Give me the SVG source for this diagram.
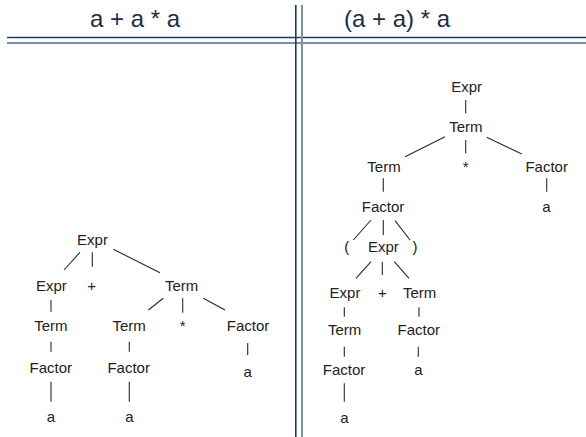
<svg xmlns="http://www.w3.org/2000/svg" width="586" height="437" viewBox="0 0 586 437">
<style>
.hdr{font-family:"Liberation Sans",Arial,sans-serif;font-size:24px;fill:#1c2d48;text-anchor:middle}
.n{font-family:"Liberation Sans",Arial,sans-serif;font-size:15px;fill:#222;text-anchor:middle}
.e{stroke:#2a2a2a;stroke-width:1.1;fill:none}
.dk{stroke:#1f3a5c;stroke-width:1.6}
.lt{stroke:#7d90a6;stroke-width:2}
</style>
<rect width="586" height="437" fill="#fff"/>
<g id="table">
<line class="dk" x1="7" y1="37.5" x2="586" y2="37.5"/>
<line class="lt" x1="7" y1="43" x2="586" y2="43"/>
<line class="dk" x1="295.8" y1="5" x2="295.8" y2="437"/>
<line class="lt" x1="302" y1="5" x2="302" y2="437"/>
<text class="hdr" x="135" y="27">a + a * a</text>
<text class="hdr" x="397" y="27">(a + a) * a</text>
</g>
<g id="connectors">
<line class="e" x1="80" y1="252.3" x2="64" y2="270"/>
<line class="e" x1="92.3" y1="252.3" x2="92.3" y2="266.7"/>
<line class="e" x1="113.3" y1="249.3" x2="160" y2="272.7"/>
<line class="e" x1="51" y1="300" x2="51" y2="311.7"/>
<line class="e" x1="163.3" y1="298.3" x2="148.3" y2="310"/>
<line class="e" x1="182.7" y1="298.3" x2="182.7" y2="312.7"/>
<line class="e" x1="203.3" y1="298.3" x2="225" y2="310"/>
<line class="e" x1="51" y1="341.7" x2="51" y2="351.7"/>
<line class="e" x1="129.3" y1="341.7" x2="129.3" y2="351.7"/>
<line class="e" x1="247.7" y1="343" x2="247.7" y2="355"/>
<line class="e" x1="51" y1="381.7" x2="51" y2="401.7"/>
<line class="e" x1="129.3" y1="381.7" x2="129.3" y2="401.7"/>
<line class="e" x1="465.7" y1="100" x2="465.7" y2="113.3"/>
<line class="e" x1="445" y1="136.7" x2="405" y2="156.7"/>
<line class="e" x1="465.7" y1="140" x2="465.7" y2="153.3"/>
<line class="e" x1="486.7" y1="137.3" x2="521.7" y2="154"/>
<line class="e" x1="383.3" y1="178.3" x2="383.3" y2="191.7"/>
<line class="e" x1="546.7" y1="178.3" x2="546.7" y2="191.7"/>
<line class="e" x1="371" y1="220" x2="353.3" y2="240"/>
<line class="e" x1="383.3" y1="220" x2="383.3" y2="235"/>
<line class="e" x1="395" y1="220.7" x2="410" y2="240"/>
<line class="e" x1="371" y1="261.7" x2="356" y2="278.3"/>
<line class="e" x1="382.3" y1="261.7" x2="382.3" y2="275"/>
<line class="e" x1="394.3" y1="261.7" x2="409" y2="278.3"/>
<line class="e" x1="344.3" y1="307.3" x2="344.3" y2="316.7"/>
<line class="e" x1="419" y1="307.3" x2="419" y2="316.7"/>
<line class="e" x1="344.3" y1="346.7" x2="344.3" y2="356.7"/>
<line class="e" x1="418.3" y1="346.7" x2="418.3" y2="356.7"/>
<line class="e" x1="344.3" y1="383.3" x2="344.3" y2="401.7"/>
</g>
<g id="left-tree">
<g id="L-expr"><text class="n" x="92.5" y="245">Expr</text></g>
<g id="L-expr2"><text class="n" x="51.3" y="290.7">Expr</text></g>
<g id="L-plus"><text class="n" x="91.7" y="290.7">+</text></g>
<g id="L-term"><text class="n" x="181.7" y="290.7">Term</text></g>
<g id="L-term2"><text class="n" x="50.8" y="331">Term</text></g>
<g id="L-term3"><text class="n" x="129.2" y="331">Term</text></g>
<g id="L-star"><text class="n" x="182.7" y="331">*</text></g>
<g id="L-factor3"><text class="n" x="248" y="331">Factor</text></g>
<g id="L-factor1"><text class="n" x="50.8" y="372.7">Factor</text></g>
<g id="L-factor2"><text class="n" x="128.7" y="372.7">Factor</text></g>
<g id="L-a3"><text class="n" x="247.7" y="376.7">a</text></g>
<g id="L-a1"><text class="n" x="51" y="421.7">a</text></g>
<g id="L-a2"><text class="n" x="129.3" y="421.7">a</text></g>
</g>
<g id="right-tree">
<g id="R-expr"><text class="n" x="466.7" y="92.3">Expr</text></g>
<g id="R-term"><text class="n" x="465.8" y="132.3">Term</text></g>
<g id="R-term2"><text class="n" x="384" y="171.7">Term</text></g>
<g id="R-star"><text class="n" x="465.7" y="171.7">*</text></g>
<g id="R-factor"><text class="n" x="546.7" y="171.7">Factor</text></g>
<g id="R-factor2"><text class="n" x="383" y="211.7">Factor</text></g>
<g id="R-a"><text class="n" x="546.3" y="211.7">a</text></g>
<g id="R-lparen"><text class="n" x="346.7" y="252.3">(</text></g>
<g id="R-expr2"><text class="n" x="383.3" y="252.3">Expr</text></g>
<g id="R-rparen"><text class="n" x="415" y="252.3">)</text></g>
<g id="R-expr3"><text class="n" x="345" y="298.3">Expr</text></g>
<g id="R-plus"><text class="n" x="382.3" y="298.3">+</text></g>
<g id="R-term3"><text class="n" x="419.7" y="298.3">Term</text></g>
<g id="R-term4"><text class="n" x="344.7" y="335.3">Term</text></g>
<g id="R-factor3"><text class="n" x="418.8" y="335.3">Factor</text></g>
<g id="R-factor4"><text class="n" x="344" y="375">Factor</text></g>
<g id="R-a2"><text class="n" x="418.3" y="375">a</text></g>
<g id="R-a3"><text class="n" x="344.3" y="423.3">a</text></g>
</g>
</svg>
